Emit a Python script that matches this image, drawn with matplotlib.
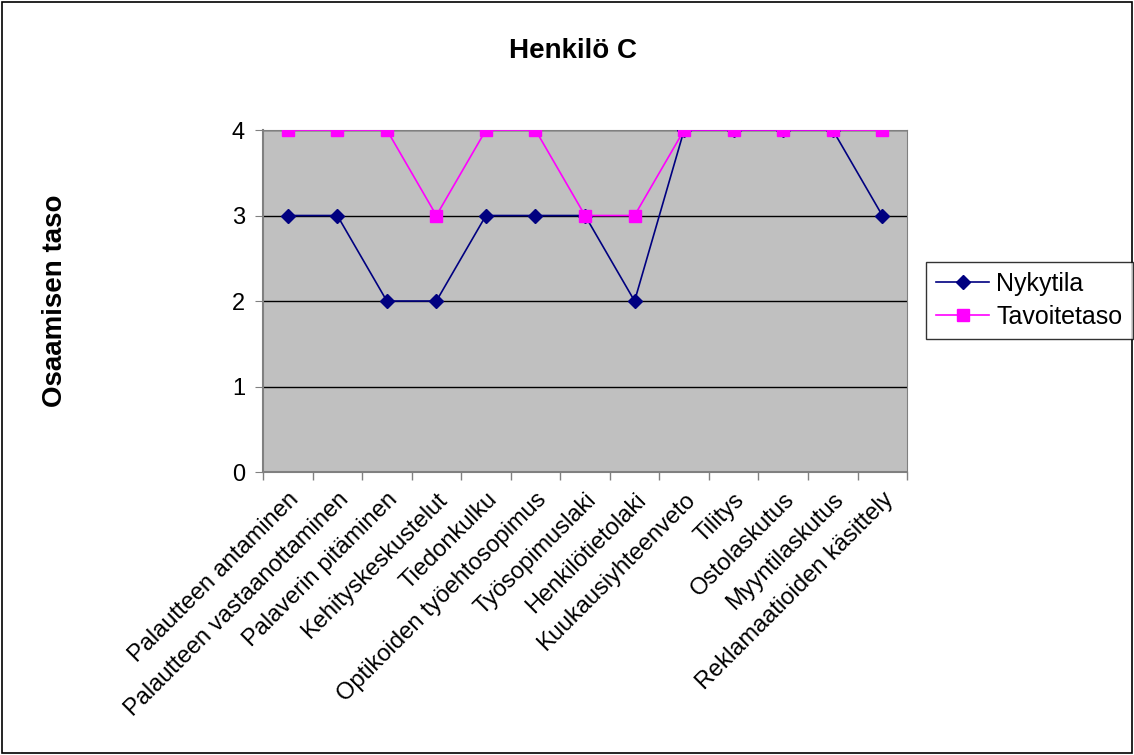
import matplotlib
matplotlib.use("Agg")
import matplotlib.pyplot as plt
from matplotlib.patches import Rectangle

plt.rcParams["font.family"] = ["Liberation Sans", "DejaVu Sans"]

categories = [
    "Palautteen antaminen",
    "Palautteen vastaanottaminen",
    "Palaverin pitäminen",
    "Kehityskeskustelut",
    "Tiedonkulku",
    "Optikoiden työehtosopimus",
    "Työsopimuslaki",
    "Henkilötietolaki",
    "Kuukausiyhteenveto",
    "Tilitys",
    "Ostolaskutus",
    "Myyntilaskutus",
    "Reklamaatioiden käsittely",
]
nykytila = [3, 3, 2, 2, 3, 3, 3, 2, 4, 4, 4, 4, 3]
tavoitetaso = [4, 4, 4, 3, 4, 4, 3, 3, 4, 4, 4, 4, 4]


def main() -> None:
    fig = plt.figure(figsize=(11.34, 7.55), dpi=100)
    ax = fig.add_axes([0.2319, 0.3748, 0.568, 0.453])
    ax.set_facecolor("#c0c0c0")

    x = list(range(len(categories)))
    ax.plot(x, nykytila, color="#000080", marker="D", markersize=7.5,
            linewidth=1.2, label="Nykytila", zorder=3)
    ax.plot(x, tavoitetaso, color="#ff00ff", marker="s", markersize=9,
            linewidth=1.2, label="Tavoitetaso", zorder=3)

    ax.set_xlim(-0.5, len(categories) - 0.5)
    ax.set_ylim(0, 4)
    ax.set_yticks([0, 1, 2, 3, 4])
    ax.yaxis.grid(True, color="black", linewidth=1)
    ax.set_axisbelow(True)

    ax.set_xticks(x)
    ax.set_xticklabels(categories, rotation=45, ha="right", va="top",
                       rotation_mode="anchor", fontsize=17)
    ax.tick_params(axis="x", which="major", length=0, pad=12)
    ax.set_xticks([i - 0.5 for i in range(len(categories) + 1)], minor=True)
    ax.tick_params(axis="x", which="minor", length=6, color="#808080", width=1)
    ax.tick_params(axis="y", length=6, color="#808080", labelsize=17, pad=7)

    for side in ["top", "right"]:
        ax.spines[side].set_color("#808080")
    for side in ["left", "bottom"]:
        ax.spines[side].set_color("#808080")
        ax.spines[side].set_linewidth(1.5)

    ax.set_ylabel("Osaamisen taso", fontsize=20, fontweight="bold")
    ax.yaxis.set_label_coords(-0.302, 0.5)
    fig.text(0.505, 0.933, "Henkilö C", ha="center", va="center",
             fontsize=20, fontweight="bold")

    fig.legend(loc="center left", bbox_to_anchor=(0.817, 0.602), fontsize=18,
               frameon=True, fancybox=False, edgecolor="black",
               borderpad=0.4, handlelength=2.1, handletextpad=0.3,
               labelspacing=0.35, borderaxespad=0)

    fig.patches.append(Rectangle((0.002, 0.002), 0.996, 0.996, transform=fig.transFigure,
                                 fill=False, edgecolor="black", linewidth=1.2))

    fig.savefig("out.png", dpi=100, facecolor="white")


if __name__ == "__main__":
    main()
